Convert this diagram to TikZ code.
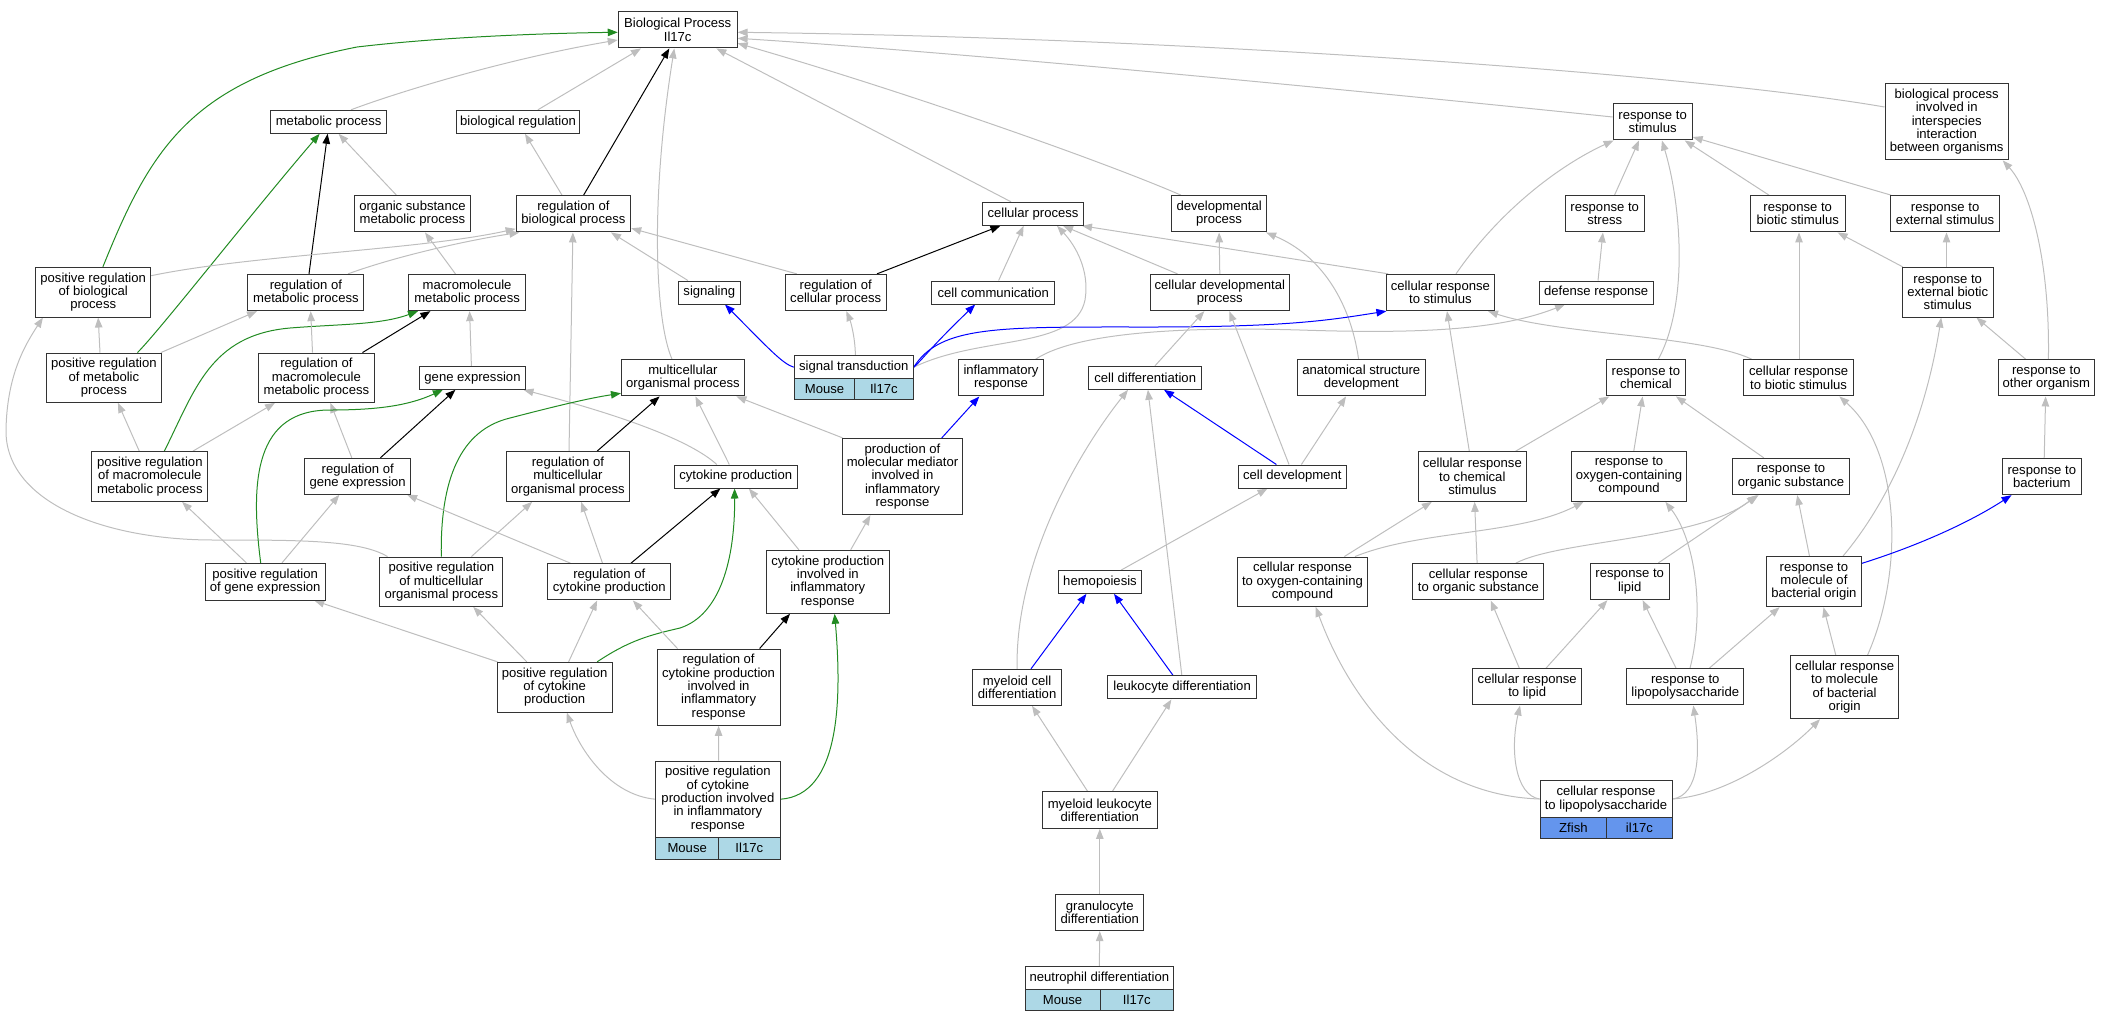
\documentclass[tikz,border=0pt]{standalone}
\usepackage{fontspec}
\setmainfont{Liberation Sans}
\usetikzlibrary{arrows.meta}
\definecolor{edgegrey}{RGB}{190,190,190}
\definecolor{edgegreen}{RGB}{34,139,34}
\definecolor{edgeblue}{RGB}{0,0,255}
\definecolor{mouseblue}{RGB}{173,216,230}
\definecolor{fishblue}{RGB}{100,149,237}
\pgfdeclarelayer{edges}
\pgfsetlayers{edges,main}
\newcommand\GN[6]{\node[bx,minimum width=#4pt,minimum height=#5pt] (#1) at (#2,#3) {#6};}
\newcommand\GC[7]{\node[bx,fill=#7,minimum width=#4pt,minimum height=#5pt] (#1) at (#2,#3) {#6};}
\tikzset{
  bx/.style={draw=black!80, line width=1pt, fill=white, inner sep=0pt, align=center,
    font=\fontsize{13.1pt}{13.35pt}\selectfont},
  gr/.style={color=edgegrey, line width=1pt, -{Triangle[length=10pt,width=7.5pt]}},
  bk/.style={gr, color=black},
  gn/.style={gr, color=edgegreen},
  bl/.style={gr, color=edgeblue},
}
\begin{document}
\begin{tikzpicture}[x=1pt,y=-1pt]
\useasboundingbox (0,0) rectangle (2111,1021);
% nodes
\GN{root}{677.7}{29.8}{118.9}{36.3}{Biological Process\\Il17c}
\GN{mp}{328.6}{121.8}{116.4}{23}{metabolic process}
\GN{br}{518}{121.8}{123.9}{23}{biological regulation}
\GN{rs}{1652.6}{121.8}{79}{36.3}{response to\\stimulus}
\GN{bpi}{1946.7}{121.8}{123.4}{76.3}{biological process\\involved in\\interspecies\\interaction\\between organisms}
\GN{osmp}{412.5}{213.8}{116.4}{36.3}{organic substance\\metabolic process}
\GN{rbp}{573.4}{213.8}{114.6}{36.3}{regulation of\\biological process}
\GN{cp}{1033}{213.8}{101}{23}{cellular process}
\GN{dp}{1219.1}{213.8}{94.6}{36.3}{developmental\\process}
\GN{rst}{1604.7}{213.8}{79.3}{36.3}{response to\\stress}
\GN{rbs}{1797.7}{213.8}{95.2}{36.3}{response to\\biotic stimulus}
\GN{res}{1945.1}{213.8}{109.6}{36.3}{response to\\external stimulus}
\GN{prbp}{93.2}{292.2}{115}{49.7}{positive regulation\\of biological\\process}
\GN{rmp}{305.9}{292.5}{116}{36.3}{regulation of\\metabolic process}
\GN{mmp}{467.1}{292.5}{116.4}{36.3}{macromolecule\\metabolic process}
\GN{sig}{709.3}{292.5}{62.1}{23}{signaling}
\GN{rcp}{835.7}{292.5}{101.4}{36.3}{regulation of\\cellular process}
\GN{cc}{993.2}{292.5}{122.8}{23}{cell communication}
\GN{cdp}{1219.8}{292.5}{138.9}{36.3}{cellular developmental\\process}
\GN{crs}{1440.4}{292.5}{108.5}{36.3}{cellular response\\to stimulus}
\GN{def}{1596.2}{292.5}{113.8}{23}{defense response}
\GN{rebs}{1947.7}{292.2}{91}{49.7}{response to\\external biotic\\stimulus}
\GN{prmp}{103.9}{377.7}{115}{49.3}{positive regulation\\of metabolic\\process}
\GN{rmmp}{316.4}{377.7}{116.4}{49.3}{regulation of\\macromolecule\\metabolic process}
\GN{ge}{472.5}{377.8}{105.8}{23}{gene expression}
\GN{mop}{682.9}{377.8}{122.9}{36.3}{multicellular\\organismal process}
\GN{st}{853.8}{367.2}{118.9}{23}{signal transduction}
\GC{sta}{824.5}{389.3}{60.3}{21.3}{Mouse}{mouseblue}
\GC{stb}{883.9}{389.3}{58.6}{21.3}{Il17c}{mouseblue}
\GN{ir}{1001}{377.8}{85.7}{36.3}{inflammatory\\response}
\GN{cd}{1145.2}{377.8}{112.5}{23}{cell differentiation}
\GN{asd}{1361.3}{377.8}{128.3}{36.3}{anatomical structure\\development}
\GN{rc}{1645.9}{377.8}{79}{36.3}{response to\\chemical}
\GN{crbs}{1798.6}{377.8}{109.6}{36.3}{cellular response\\to biotic stimulus}
\GN{roo}{2046.3}{377.8}{96.2}{36.3}{response to\\other organism}
\GN{prmmp}{149.8}{476.5}{116.1}{49.7}{positive regulation\\of macromolecule\\metabolic process}
\GN{rge}{357.7}{476.3}{106.1}{36}{regulation of\\gene expression}
\GN{rmop}{567.9}{476.5}{122.9}{49.7}{regulation of\\multicellular\\organismal process}
\GN{cyp}{735.7}{476.5}{122.8}{23}{cytokine production}
\GN{pmm}{902.5}{476.5}{120}{76.3}{production of\\molecular mediator\\involved in\\inflammatory\\response}
\GN{cdev}{1292.3}{476.5}{108.2}{23}{cell development}
\GN{crcs}{1472.3}{476.5}{108.2}{49.7}{cellular response\\to chemical\\stimulus}
\GN{rocc}{1629}{476.3}{114.9}{50}{response to\\oxygen-containing\\compound}
\GN{ros}{1791}{476.5}{116.3}{36.3}{response to\\organic substance}
\GN{rb}{2041.8}{476.5}{78.7}{36.3}{response to\\bacterium}
\GN{prge}{265.2}{581.7}{120.4}{36.7}{positive regulation\\of gene expression}
\GN{prmop}{441.3}{581.7}{123.2}{49.3}{positive regulation\\of multicellular\\organismal process}
\GN{rcyp}{609.3}{581.8}{122.8}{36.3}{regulation of\\cytokine production}
\GN{cpir}{827.8}{581.8}{122.9}{63}{cytokine production\\involved in\\inflammatory\\response}
\GN{hem}{1100}{582}{82.8}{22.7}{hemopoiesis}
\GN{crocc}{1302.5}{581.7}{130.7}{49.3}{cellular response\\to oxygen-containing\\compound}
\GN{cros}{1478.4}{581.8}{131}{36.3}{cellular response\\to organic substance}
\GN{rl}{1629.7}{581.5}{79}{36.3}{response to\\lipid}
\GN{rmbo}{1813.9}{581.7}{95.2}{50}{response to\\molecule of\\bacterial origin}
\GN{prcyp}{554.6}{687.2}{115}{49.7}{positive regulation\\of cytokine\\production}
\GN{rcpir}{718.6}{687.2}{122.9}{76.3}{regulation of\\cytokine production\\involved in\\inflammatory\\response}
\GN{mcd}{1017.1}{687.3}{88.6}{36}{myeloid cell\\differentiation}
\GN{ld}{1182.1}{687.3}{148.5}{23.3}{leukocyte differentiation}
\GN{crl}{1527.2}{686.8}{109}{36.3}{cellular response\\to lipid}
\GN{rlps}{1685.3}{686.8}{117}{36.3}{response to\\lipopolysaccharide}
\GN{crmbo}{1844.6}{687.2}{108.2}{63}{cellular response\\to molecule\\of bacterial\\origin}
\GN{prcpir}{717.9}{799.2}{124.3}{76.3}{positive regulation\\of cytokine\\production involved\\in inflammatory\\response}
\GC{prcpira}{687.2}{848.2}{62.9}{21.7}{Mouse}{mouseblue}
\GC{prcpirb}{749.3}{848.2}{61.4}{21.7}{Il17c}{mouseblue}
\GN{mld}{1099.8}{810}{114.6}{36.7}{myeloid leukocyte\\differentiation}
\GN{crlps}{1606}{799}{132}{36.6}{cellular response\\to lipopolysaccharide}
\GC{crlpsa}{1573.4}{827.8}{66.7}{21}{Zfish}{fishblue}
\GC{crlpsb}{1639.4}{827.8}{65.3}{21}{il17c}{fishblue}
\GN{gd}{1099.8}{912.5}{88.2}{36.3}{granulocyte\\differentiation}
\GN{nd}{1099.3}{977.7}{148.6}{22.7}{neutrophil differentiation}
\GC{nda}{1062.5}{999.7}{75}{21.3}{Mouse}{mouseblue}
\GC{ndb}{1136.8}{999.7}{73.6}{21.3}{Il17c}{mouseblue}
% edges
\begin{pgfonlayer}{edges}
\draw[gn] ([xshift=9.7pt]prbp.north) .. controls (150,150) and (190,80) .. (357,47) .. controls (450,36) and (560,33) .. ([yshift=-2.5pt]root.west);
\draw[gr] ([xshift=22.4pt]mp.north) .. controls (390,95) and (500,60) .. ([yshift=-10.2pt]root.west);
\draw[gr] ([xshift=19.9pt]br.north) -- ([xshift=-36.7pt]root.south);
\draw[bk] ([xshift=10.2pt]rbp.north) -- ([xshift=-8.4pt]root.south);
\draw[gr] ([xshift=-10.9pt]mop.north) .. controls (655,320) and (650,200) .. ([xshift=-3.4pt]root.south);
\draw[gr] ([xshift=-22pt]cp.north) -- ([xshift=38.7pt]root.south);
\draw[gr] ([xshift=-38.1pt]dp.north) .. controls (1100,160) and (900,90) .. ([yshift=-13.5pt]root.east);
\draw[gr] ([yshift=4.8pt]rs.west) .. controls (1450,100) and (1000,55) .. ([yshift=-8.5pt]root.east);
\draw[gr] ([yshift=14.8pt]bpi.west) .. controls (1700,75) and (1200,38) .. ([yshift=-2.5pt]root.east);
\draw[gn] ([xshift=33.6pt]prmp.north) .. controls (160,330) and (250,215) .. ([xshift=-9pt]mp.south);
\draw[bk] ([xshift=3.1pt]rmp.north) -- ([xshift=-1pt]mp.south);
\draw[gr] ([xshift=-16.1pt]osmp.north) -- ([xshift=10pt]mp.south);
\draw[gr] ([xshift=-11.4pt]rbp.north) -- ([xshift=7pt]br.south);
\draw[gr] ([xshift=-11.7pt]mmp.north) -- ([xshift=12.5pt]osmp.south);
\draw[gr] ([yshift=16.5pt]prbp.east) .. controls (250,255) and (420,250) .. ([yshift=-15pt]rbp.west);
\draw[gr] ([xshift=42.1pt]rmp.north) .. controls (400,255) and (470,240) .. ([xshift=-54pt]rbp.south);
\draw[gr] ([xshift=1.1pt]rmop.north) -- ([xshift=-0.5pt]rbp.south);
\draw[gr] ([xshift=-21.4pt]sig.north) -- ([xshift=37.6pt]rbp.south);
\draw[gr] ([xshift=-38.9pt]rcp.north) -- ([yshift=-14.5pt]rbp.east);
\draw[bk] ([xshift=41.3pt]rcp.north) -- ([xshift=-32.6pt]cp.south);
\draw[gr] ([xshift=5.4pt]cc.north) -- ([xshift=-9.4pt]cp.south);
\draw[gr] (st.east) .. controls (980,335) and (1075,350) .. (1085,300) .. controls (1090,270) and (1075,245) .. ([xshift=24pt]cp.south);
\draw[gr] ([xshift=-42.3pt]cdp.north) -- ([xshift=30pt]cp.south);
\draw[gr] ([xshift=-52pt]crs.north) -- ([xshift=49pt]cp.south);
\draw[gr] (cdp.north) -- (dp.south);
\draw[gr] ([xshift=-2.7pt]asd.north) .. controls (1350,300) and (1320,255) .. ([xshift=47pt]dp.south);
\draw[gr] ([xshift=15.6pt]crs.north) .. controls (1500,210) and (1560,165) .. ([xshift=-39pt]rs.south);
\draw[gr] ([xshift=9.8pt]rst.north) -- ([xshift=-13.6pt]rs.south);
\draw[gr] ([xshift=12.5pt]rc.north) .. controls (1690,300) and (1680,200) .. ([xshift=9.3pt]rs.south);
\draw[gr] ([xshift=-28.7pt]rbs.north) -- ([xshift=32.1pt]rs.south);
\draw[gr] ([xshift=-54pt]res.north) -- ([yshift=-15.2pt]rs.east);
\draw[gr] ([xshift=2.1pt]roo.north) .. controls (2050,260) and (2030,190) .. ([xshift=56pt]bpi.south);
\draw[gr] ([xshift=1.8pt]def.north) -- ([xshift=-1.8pt]rst.south);
\draw[gr] ([xshift=0.4pt]crbs.north) -- ([xshift=1.3pt]rbs.south);
\draw[gr] ([xshift=-45pt]rebs.north) -- ([xshift=39.9pt]rbs.south);
\draw[gr] ([xshift=-1.2pt]rebs.north) -- ([xshift=1.4pt]res.south);
\draw[gr] ([xshift=-20.7pt]roo.north) -- ([xshift=28.7pt]rebs.south);
\draw[gr] ([xshift=29pt]rmbo.north) .. controls (1890,500) and (1925,420) .. ([xshift=-6.5pt]rebs.south);
\draw[gr] ([xshift=-3pt]crcs.north) -- ([xshift=6.6pt]crs.south);
\draw[gr] ([xshift=-47pt]crbs.north) .. controls (1700,335) and (1560,335) .. ([xshift=47.6pt]crs.south);
\draw[bl] (st.east) .. controls (940,325) and (1000,327) .. (1150,327) .. controls (1290,327) and (1330,320) .. ([xshift=-54pt]crs.south);
\draw[gr] ([xshift=34.7pt]ir.north) .. controls (1080,330) and (1200,327) .. (1300,330) .. controls (1420,334) and (1500,330) .. ([xshift=-31.2pt]def.south);
\draw[gr] ([xshift=9.8pt]cd.north) -- ([xshift=-15.5pt]cdp.south);
\draw[gr] ([xshift=-3.3pt]cdev.north) -- ([xshift=9.5pt]cdp.south);
\draw[gr] ([xshift=9.1pt]cdev.north) -- ([xshift=-15.3pt]asd.south);
\draw[gr] (mcd.north) .. controls (1015,560) and (1080,450) .. ([xshift=-17.2pt]cd.south);
\draw[gr] ([xshift=-0.3pt]ld.north) -- ([xshift=2.7pt]cd.south);
\draw[bl] ([xshift=-15.9pt]cdev.north) -- ([xshift=18.8pt]cd.south);
\draw[gr] ([xshift=21pt]hem.north) -- ([xshift=-24.8pt]cdev.south);
\draw[bl] ([xshift=13.9pt]mcd.north) -- ([xshift=-13.6pt]hem.south);
\draw[bl] ([xshift=-9.2pt]ld.north) -- ([xshift=14pt]hem.south);
\draw[gr] ([xshift=-12.3pt]mld.north) -- ([xshift=14.9pt]mcd.south);
\draw[gr] ([xshift=12.7pt]mld.north) -- ([xshift=-10.7pt]ld.south);
\draw[gr] (gd.north) -- (mld.south);
\draw[gr] (nd.north) -- (gd.south);
\draw[gr] ([xshift=43.4pt]crcs.north) -- ([xshift=-36.7pt]rc.south);
\draw[gr] ([xshift=4.8pt]rocc.north) -- ([xshift=-3.3pt]rc.south);
\draw[gr] ([xshift=-27.2pt]ros.north) -- ([xshift=30.1pt]rc.south);
\draw[gr] ([xshift=22.9pt]crmbo.north) .. controls (1905,570) and (1900,450) .. ([xshift=40.7pt]crbs.south);
\draw[gr] ([xshift=2.4pt]rb.north) -- ([xshift=-0.7pt]roo.south);
\draw[gr] ([xshift=41.8pt]crocc.north) -- ([xshift=-40.5pt]crcs.south);
\draw[gr] ([xshift=-1.3pt]cros.north) -- ([xshift=2.3pt]crcs.south);
\draw[gr] ([xshift=52.5pt]crocc.north) .. controls (1420,530) and (1520,535) .. ([xshift=-45.4pt]rocc.south);
\draw[gr] ([xshift=4.7pt]rlps.north) .. controls (1705,610) and (1695,540) .. ([xshift=36.4pt]rocc.south);
\draw[gr] ([xshift=37.3pt]cros.north) .. controls (1560,540) and (1700,540) .. ([xshift=-34.2pt]ros.south);
\draw[gr] ([xshift=28.7pt]rl.north) -- ([xshift=-32.5pt]ros.south);
\draw[gr] ([xshift=-4.4pt]rmbo.north) -- ([xshift=6.2pt]ros.south);
\draw[bl] ([yshift=18.4pt]rmbo.east) .. controls (1920,545) and (1970,522) .. ([xshift=-30.3pt]rb.south);
\draw[bl] ([xshift=39.3pt]pmm.north) -- ([xshift=-21.7pt]ir.south);
\draw[bk] ([xshift=46.1pt]rmmp.north) -- ([xshift=-36.7pt]mmp.south);
\draw[gn] ([xshift=14.5pt]prmmp.north) .. controls (195,390) and (210,335) .. (290,328) .. controls (340,324) and (380,325) .. ([xshift=-49.1pt]mmp.south);
\draw[gr] ([xshift=-1.1pt]ge.north) -- ([xshift=2.5pt]mmp.south);
\draw[gr] ([xshift=57pt]prmp.north) -- ([xshift=-48.9pt]rmp.south);
\draw[gr] ([xshift=-3.9pt]rmmp.north) -- ([xshift=4.8pt]rmp.south);
\draw[gr] ([xshift=-3.9pt]prmp.north) -- ([xshift=5pt]prbp.south);
\draw[gr] ([xshift=-53.8pt]prmop.north) .. controls (360,540) and (300,540) .. (214,540) .. controls (100,540) and (5,500) .. (6,430) .. controls (7,375) and (25,345) .. ([xshift=-50.3pt]prbp.south);
\draw[gr] ([xshift=-10.5pt]prmmp.north) -- ([xshift=14pt]prmp.south);
\draw[gr] ([xshift=43.1pt]prmmp.north) -- ([xshift=-41.4pt]rmmp.south);
\draw[gr] ([xshift=-5.9pt]rge.north) -- ([xshift=14pt]rmmp.south);
\draw[bk] ([xshift=22.7pt]rge.north) -- ([xshift=-17.1pt]ge.south);
\draw[gn] ([xshift=-4.5pt]prge.north) .. controls (250,480) and (255,410) .. (330,410) .. controls (380,410) and (410,405) .. ([xshift=-29.6pt]ge.south);
\draw[gr] ([xshift=-18.9pt]cyp.north) .. controls (690,440) and (620,415) .. ([xshift=51pt]ge.south);
\draw[gn] (prmop.north) .. controls (440,480) and (460,430) .. (510,418) .. controls (560,405) and (590,398) .. ([yshift=-15.5pt]mop.west);
\draw[bk] ([xshift=29.2pt]rmop.north) -- ([xshift=-23.3pt]mop.south);
\draw[gr] ([xshift=-6.4pt]cyp.north) -- ([xshift=12.5pt]mop.south);
\draw[gr] ([xshift=-60pt]pmm.north) -- ([xshift=53.5pt]mop.south);
\draw[gr] ([xshift=16.8pt]prge.north) -- ([xshift=-18.4pt]rge.south);
\draw[gr] ([xshift=-38.9pt]rcyp.north) -- ([xshift=49.4pt]rge.south);
\draw[gr] ([xshift=-18.8pt]prge.north) -- ([xshift=32.3pt]prmmp.south);
\draw[gr] ([xshift=30.1pt]prmop.north) -- ([xshift=-35.8pt]rmop.south);
\draw[gr] ([xshift=-6.8pt]rcyp.north) -- ([xshift=13.2pt]rmop.south);
\draw[bk] ([xshift=21.7pt]rcyp.north) -- ([xshift=-15.3pt]cyp.south);
\draw[gn] ([xshift=42.5pt]prcyp.north) .. controls (630,640) and (650,635) .. (680,628) .. controls (720,615) and (735,560) .. ([xshift=-1.1pt]cyp.south);
\draw[gr] ([xshift=-28.9pt]cpir.north) -- ([xshift=13.2pt]cyp.south);
\draw[gr] ([xshift=22.9pt]cpir.north) -- ([xshift=-32.1pt]pmm.south);
\draw[gr] ([xshift=-57pt]prcyp.north) -- ([xshift=49.1pt]prge.south);
\draw[gr] ([xshift=-27.8pt]prcyp.north) -- ([xshift=31.9pt]prmop.south);
\draw[gr] ([xshift=14pt]prcyp.north) -- ([xshift=-12.2pt]rcyp.south);
\draw[gr] ([xshift=-41.1pt]rcpir.north) -- ([xshift=23.6pt]rcyp.south);
\draw[bk] ([xshift=41pt]rcpir.north) -- ([xshift=-37.8pt]cpir.south);
\draw[gn] (prcpir.east) .. controls (840,795) and (842,700) .. ([xshift=6.8pt]cpir.south);
\draw[gr] ([xshift=0.7pt]prcpir.north) -- (rcpir.south);
\draw[gr] (prcpir.west) .. controls (610,795) and (580,750) .. ([xshift=12.2pt]prcyp.south);
\draw[gr] ([xshift=-7.9pt]crl.north) -- ([xshift=12.3pt]cros.south);
\draw[gr] ([xshift=18.8pt]crl.north) -- ([xshift=-22.3pt]rl.south);
\draw[gr] ([xshift=-9.3pt]rlps.north) -- ([xshift=12.9pt]rl.south);
\draw[gr] ([xshift=24pt]rlps.north) -- ([xshift=-34.3pt]rmbo.south);
\draw[gr] ([xshift=-8.8pt]crmbo.north) -- ([xshift=9.6pt]rmbo.south);
\draw[gr] (crlps.west) .. controls (1515,795) and (1510,750) .. ([xshift=-7.2pt]crl.south);
\draw[gr] (crlps.east) .. controls (1700,795) and (1700,750) .. ([xshift=8pt]rlps.south);
\draw[gr] (crlps.east) .. controls (1730,795) and (1790,750) .. ([xshift=-24.6pt]crmbo.south);
\draw[gr] (crlps.west) .. controls (1420,795) and (1350,700) .. ([xshift=13.2pt]crocc.south);
\draw[gr] ([xshift=1.6pt]st.north) .. controls (855,335) and (850,320) .. ([xshift=10.7pt]rcp.south);
\draw[bl] (st.west) .. controls (783,364) and (770,350) .. ([xshift=15.7pt]sig.south);
\draw[bl] (st.east) .. controls (922,360) and (930,348) .. ([xshift=-18pt]cc.south);
\end{pgfonlayer}
\end{tikzpicture}
\end{document}
